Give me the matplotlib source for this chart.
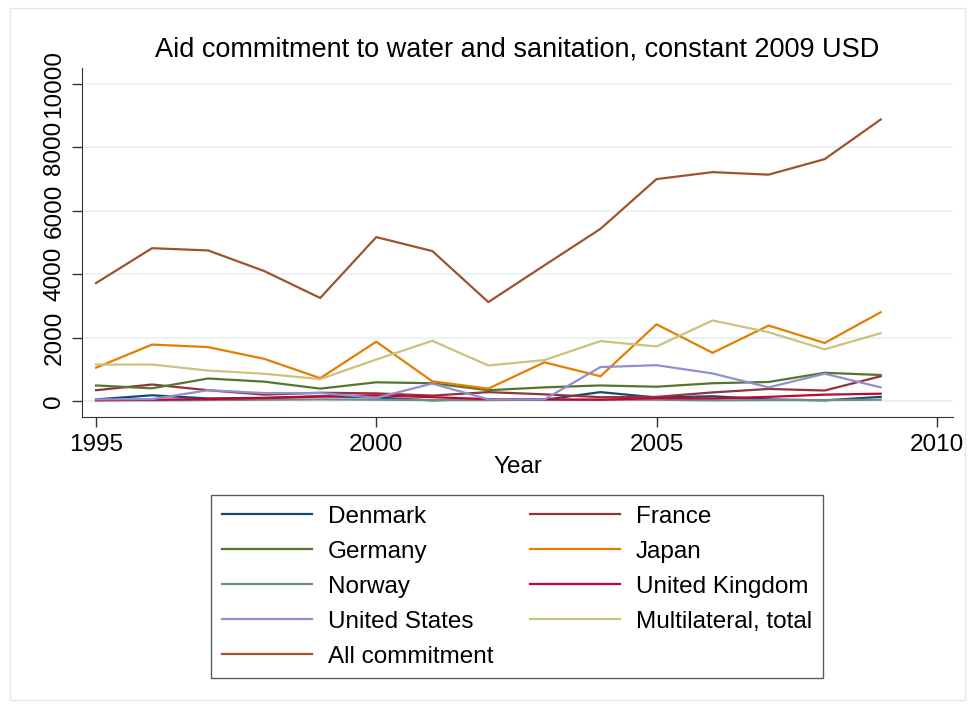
import matplotlib
matplotlib.use("Agg")
import matplotlib.pyplot as plt
from matplotlib.patches import Rectangle

plt.rcParams['font.family'] = ['Liberation Sans', 'DejaVu Sans']

years = list(range(1995, 2010))

denmark = [50, 180, 80, 100, 150, 110, 20, 60, 40, 280, 110, 150, 50, 20, 130]
france = [340, 520, 340, 200, 260, 240, 170, 280, 210, 120, 130, 270, 380, 330, 780]
germany = [490, 400, 710, 610, 390, 590, 560, 340, 430, 490, 450, 560, 600, 890, 820]
japan = [1050, 1780, 1700, 1330, 720, 1870, 620, 390, 1220, 780, 2420, 1520, 2380, 1830, 2800]
norway = [30, 20, 30, 40, 50, 40, 30, 30, 40, 40, 40, 20, 30, 30, 40]
uk = [20, 40, 60, 90, 140, 180, 120, 60, 50, 40, 90, 80, 130, 200, 230]
usa = [50, 60, 340, 250, 250, 100, 550, 50, 50, 1070, 1130, 870, 430, 860, 430]
multilateral = [1150, 1150, 960, 860, 690, 1310, 1900, 1120, 1290, 1890, 1720, 2540, 2170, 1630, 2140]
all_commit = [3720, 4820, 4750, 4100, 3250, 5170, 4730, 3120, 4280, 5430, 7000, 7220, 7140, 7630, 8880]

# stata s2color palette
series = [
    ("Denmark", denmark, "#1a476f"),
    ("France", france, "#90353b"),
    ("Germany", germany, "#55752f"),
    ("Japan", japan, "#e37e00"),
    ("Norway", norway, "#6e8e84"),
    ("United Kingdom", uk, "#c10534"),
    ("United States", usa, "#938dd2"),
    ("Multilateral, total", multilateral, "#cac27e"),
    ("All commitment", all_commit, "#a0522d"),
]

fig = plt.figure(figsize=(9.73, 7.07), dpi=100)
fig.patches.append(Rectangle((10/973, 1 - 700/707), 955/973, 692/707,
                             transform=fig.transFigure, fill=False,
                             edgecolor="#e6e6e6", lw=1))
ax = fig.add_axes([82/973, 1 - 417/707, (953 - 82)/973, (417 - 68)/707])

handles = {}
for name, vals, col in series:
    h, = ax.plot(years, vals, color=col, lw=1.6, label=name)
    handles[name] = h

ax.set_xlim(1994.75, 2010.29)
ax.set_ylim(-505, 10505)
ax.set_xticks([1995, 2000, 2005, 2010])
ax.set_yticks(range(0, 10001, 2000))
ax.set_yticklabels([str(v) for v in range(0, 10001, 2000)], rotation=90, va="center")
ax.tick_params(labelsize=17.5, length=7, width=1, color="#333333", pad=5)
ax.yaxis.grid(True, color="#eaf2f3", lw=1.5)
ax.set_axisbelow(True)
for s in ["top", "right"]:
    ax.spines[s].set_visible(False)
for s in ["left", "bottom"]:
    ax.spines[s].set_color("#333333")
ax.set_xlabel("Year", fontsize=17.5, labelpad=0)
ax.set_title("Aid commitment to water and sanitation, constant 2009 USD",
             fontsize=19.5, pad=8)

order = ["Denmark", "Germany", "Norway", "United States", "All commitment",
         "France", "Japan", "United Kingdom", "Multilateral, total"]
leg = fig.legend([handles[n] for n in order], order, ncol=2,
                 loc="upper center", bbox_to_anchor=(517/973, 1 - 495/707),
                 fontsize=17.5, frameon=True, fancybox=False, handlelength=3.7,
                 handletextpad=0.65, columnspacing=1.5, labelspacing=0.53,
                 borderpad=0.45, borderaxespad=0)
leg.get_frame().set_edgecolor("#333333")
leg.get_frame().set_linewidth(1)

fig.savefig("out.png", dpi=100)
